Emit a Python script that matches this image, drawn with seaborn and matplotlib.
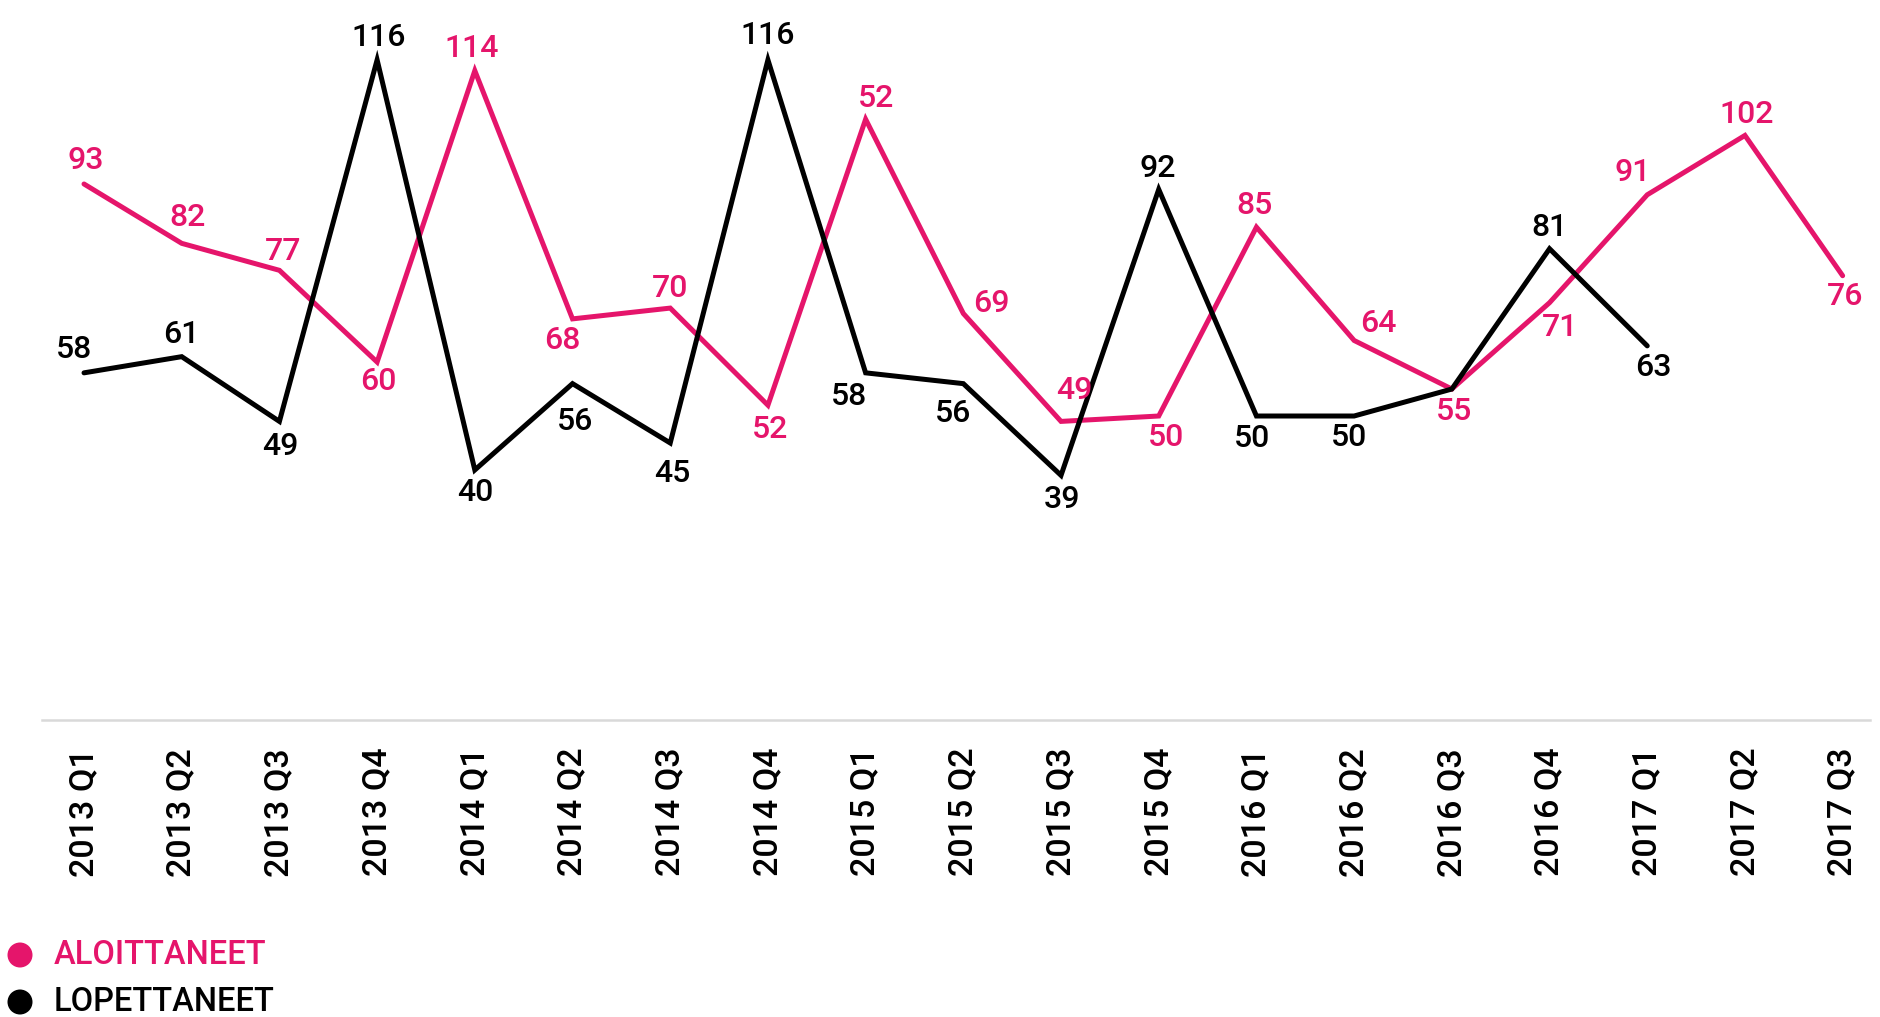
import numpy as np
import pandas as pd
import matplotlib
matplotlib.use("Agg")
import matplotlib.pyplot as plt
from matplotlib.patches import Circle
import seaborn as sns

# ---- data ----
quarters = ["2013 Q1", "2013 Q2", "2013 Q3", "2013 Q4",
            "2014 Q1", "2014 Q2", "2014 Q3", "2014 Q4",
            "2015 Q1", "2015 Q2", "2015 Q3", "2015 Q4",
            "2016 Q1", "2016 Q2", "2016 Q3", "2016 Q4",
            "2017 Q1", "2017 Q2", "2017 Q3"]
aloittaneet = [93, 82, 77, 60, 114, 68, 70, 52, 105, 69, 49, 50, 85, 64, 55, 71, 91, 102, 76]
aloittaneet_labels = ["93", "82", "77", "60", "114", "68", "70", "52", "52", "69", "49", "50",
                      "85", "64", "55", "71", "91", "102", "76"]
lopettaneet = [58, 61, 49, 116, 40, 56, 45, 116, 58, 56, 39, 92, 50, 50, 55, 81, 63, np.nan, np.nan]
lopettaneet_labels = ["58", "61", "49", "116", "40", "56", "45", "116", "58", "56", "39", "92",
                      "50", "50", "", "81", "63", "", ""]
series_names = ["ALOITTANEET", "LOPETTANEET"]

# ---- style ----
PINK = "#e5156b"
BLACK = "#000000"
sns.set_style("white")
plt.rcParams["font.family"] = ["Roboto", "DejaVu Sans"]
WEIGHT = "medium"

# label offsets in pixels (dx, dy), styling only
pink_off = [(2, 23), (6, 26), (4, 19), (1, -19), (-3, 22), (-10, -22), (0, 20), (2, -24),
            (10, 21), (28, 10), (13, 31), (7, -21), (-2, 22), (24, 17), (2, -22), (11, -25),
            (-15, 22), (2, 21), (2, -21)]
black_off = [(-10, 23), (0, 22), (1, -25), (2, 22), (0, -23), (3, -38), (2, -31), (0, 24),
             (-17, -24), (-10, -30), (1, -24), (-1, 21), (-4, -22), (-5, -21), (0, 0), (0, 21),
             (6, -22), (0, 0), (0, 0)]

W, H = 1880, 1017
fig = plt.figure(figsize=(W / 100, H / 100), dpi=100)
ax = fig.add_axes([42 / W, (H - 720) / H, (1870 - 42) / W, 720 / H])

x = np.arange(len(quarters))
df = pd.DataFrame({"pos": np.concatenate([x, x]),
                   "value": aloittaneet + lopettaneet,
                   "series": [series_names[0]] * len(x) + [series_names[1]] * len(x)})

sns.lineplot(data=df[df.series == series_names[0]], x="pos", y="value", color=PINK,
             lw=3.6, ax=ax, legend=False, solid_joinstyle="miter")
sns.lineplot(data=df[df.series == series_names[1]].dropna(), x="pos", y="value", color=BLACK,
             lw=3.6, ax=ax, legend=False, solid_joinstyle="miter")

for i, (v, lab) in enumerate(zip(aloittaneet, aloittaneet_labels)):
    if lab:
        ax.annotate(lab, (x[i], v), xytext=pink_off[i], textcoords="offset pixels",
                    ha="center", va="center", color=PINK, fontsize=23, fontweight=WEIGHT,
                    annotation_clip=False)
for i, (v, lab) in enumerate(zip(lopettaneet, lopettaneet_labels)):
    if lab and not np.isnan(v):
        ax.annotate(lab, (x[i], v), xytext=black_off[i], textcoords="offset pixels",
                    ha="center", va="center", color=BLACK, fontsize=23, fontweight=WEIGHT,
                    annotation_clip=False)

ax.set_xlim(-0.43, 18.28)
ax.set_ylim(-6.34, 127.1)
ax.set_xticks(x)
ax.set_xticklabels(quarters, rotation=90, fontsize=24.5, color="black", fontweight=WEIGHT)
ax.tick_params(axis="x", length=0, pad=20)
ax.set_yticks([])
ax.set_xlabel("")
ax.set_ylabel("")
for s in ["top", "left", "right"]:
    ax.spines[s].set_visible(False)
ax.spines["bottom"].set_color("#d9d9d9")
ax.spines["bottom"].set_linewidth(1.8)

# legend
for name, col, yc in [(series_names[0], PINK, 955), (series_names[1], BLACK, 1002)]:
    fig.add_artist(Circle((20 / 100, (H - yc) / 100), 0.125, transform=fig.dpi_scale_trans,
                          color=col, lw=0))
    fig.text(54 / W, (H - yc) / H, name, color=col, fontsize=23.5, fontweight=WEIGHT,
             ha="left", va="center")

fig.savefig("out.png", dpi=100)
